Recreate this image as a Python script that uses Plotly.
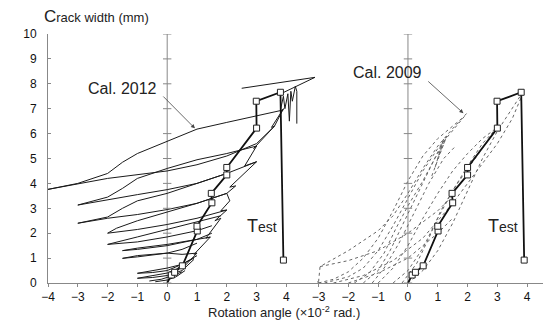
import plotly.graph_objects as go

# ---------------- data ----------------
y_ticks = list(range(0, 11))
x_ticks_left = [-4, -3, -2, -1, 0, 1, 2, 3, 4]
x_ticks_right = [-3, -2, -1, 0, 1, 2, 3, 4]

# Test (same measured curve drawn in both panels)
test_x = [0.0, 0.14, 0.25, 0.51, 1.01, 1.0, 1.5, 1.48, 2.0, 2.0, 3.0, 2.99, 3.8, 3.9]
test_y = [0.0, 0.32, 0.43, 0.69, 2.09, 2.28, 3.22, 3.6, 4.34, 4.64, 6.22, 7.3, 7.66, 0.92]

# Cal. 2012 (left panel), solid curves
cal2012_x = [
    [3.9, 3.0, 2.0, 1.0, 0.0, -1.0, -1.5, -2.0, -3.0, -4.0],
    [-4.0, -2.0, 0.0, 1.0, 2.0, 3.0, 3.6, 3.9],
    [3.0, 2.0, 1.0, 0.0, -1.0, -1.5, -2.0, -3.0],
    [-3.0, -2.0, -1.0, 0.0, 1.0, 2.0, 3.0],
    [2.0, 1.0, 0.0, -1.0, -1.5, -2.0, -3.0],
    [-3.0, -2.0, -1.0, 0.0, 1.0, 2.0],
    [2.0, 1.0, 0.0, -1.0, -1.7, -2.0],
    [-2.0, -1.0, 0.0, 1.0, 2.0],
    [1.8, 1.0, 0.0, -1.0, -2.0],
    [-2.0, -1.0, 0.0, 1.0, 1.5],
    [1.44, 1.0, 0.0, -1.0, -1.5],
    [-1.5, -1.0, 0.0, 1.0, 1.5],
    [1.0, 0.5, 0.0, -1.0, -1.5],
    [-1.5, -1.0, 0.0, 0.5, 1.0],
    [0.9, 0.5, 0.0, -0.5, -1.0],
    [-1.0, -0.5, 0.0, 0.5, 1.0],
    [0.6, 0.3, 0.0, -0.5, -1.0],
    [-1.0, -0.5, 0.0, 0.5, 0.9],
    [-0.6, -0.2, 0.2, 0.5],
    [-0.4, 0.0, 0.3, 0.6],
    [0.6, 1.0, 0.9, 1.45, 1.3, 1.8, 1.6, 2.0, 1.8, 2.1, 2.0, 2.3, 2.1, 3.0, 2.6, 3.0, 2.9, 3.6, 3.5, 3.9],
    [2.5, 4.96, 3.9],
    [3.8, 3.9, 3.95, 4.05, 4.1, 4.15, 4.2, 4.3, 4.35, 4.35],
]
cal2012_y = [
    [6.95, 6.7, 6.45, 6.18, 5.68, 5.2, 4.85, 4.4, 4.0, 3.76],
    [3.76, 4.2, 4.5, 4.75, 5.1, 5.6, 6.3, 7.0],
    [5.5, 5.2, 4.95, 4.6, 4.2, 3.8, 3.45, 3.13],
    [3.13, 3.35, 3.55, 3.75, 4.0, 4.4, 4.87],
    [4.4, 4.0, 3.6, 3.3, 3.0, 2.65, 2.4],
    [2.4, 2.6, 2.75, 2.95, 3.2, 3.6],
    [3.6, 3.2, 2.85, 2.5, 2.2, 2.0],
    [2.0, 2.15, 2.35, 2.6, 2.93],
    [2.7, 2.45, 2.15, 1.85, 1.55],
    [1.55, 1.65, 1.85, 2.1, 2.3],
    [1.84, 1.75, 1.55, 1.4, 1.3],
    [1.3, 1.35, 1.5, 1.75, 2.0],
    [1.2, 1.15, 1.2, 1.1, 0.99],
    [0.99, 1.05, 1.2, 1.35, 1.6],
    [1.0, 0.75, 0.6, 0.48, 0.39],
    [0.39, 0.42, 0.5, 0.75, 1.1],
    [0.8, 0.55, 0.4, 0.28, 0.19],
    [0.19, 0.22, 0.3, 0.5, 0.95],
    [0.08, 0.15, 0.3, 0.45],
    [0.05, 0.12, 0.25, 0.5],
    [0.7, 1.2, 1.15, 1.85, 1.8, 2.6, 2.5, 2.93, 2.9, 3.3, 3.6, 3.9, 3.85, 4.87, 4.7, 5.5, 5.4, 6.3, 6.25, 7.0],
    [7.82, 8.26, 7.65],
    [6.95, 7.5, 7.0, 7.6, 6.5, 7.7, 7.3, 7.9, 7.7, 6.4],
]

# Cal. 2009 (right panel), dotted curves
cal2009_x = [
    [-3.0, -2.95, -2.0, -1.0, -0.5, 0.0, 0.5, 1.0, 1.5, 2.0],
    [-3.0, -2.5, -2.0, -1.5, -1.0, -0.5, 0.0, 0.5, 1.0, 1.5, 1.8],
    [-2.8, -2.0, -1.5, -1.0, -0.5, 0.0, 0.5, 1.0, 1.5, 1.9],
    [-1.8, -1.3, -0.8, -0.4, 0.0, 0.5, 0.9, 1.2],
    [-1.5, -1.0, -0.6, -0.2, 0.3, 0.7, 1.1, 1.3],
    [-1.0, -0.5, 0.0, 0.5, 1.0, 1.5, 2.0, 2.5, 3.0],
    [-0.5, 0.0, 0.5, 1.0, 1.5, 2.0, 2.5, 3.0],
    [0.0, 0.5, 1.0, 1.5, 2.0, 2.5, 3.0, 3.5, 3.9],
    [-2.0, -1.0, 0.0, 1.0, 1.5],
    [-2.95, -2.0, -1.0, 0.0, 1.0, 1.5],
    [-2.5, -1.5, -0.5, 0.5, 1.5, 2.5, 3.0, 3.5, 3.85],
    [0.8, 1.3, 1.0, 1.2, 0.9],
    [-1.2, -0.8, -0.3, 0.2, 0.7, 1.2, 1.6],
    [-0.2, 0.3, 0.7, 1.1, 1.6, 2.2, 2.8, 3.0],
    [-3.05, -2.95],
]
cal2009_y = [
    [0.05, 0.66, 1.3, 2.1, 2.7, 3.6, 4.6, 5.5, 6.2, 6.85],
    [0.0, 0.15, 0.45, 1.0, 1.8, 2.9, 4.1, 5.1, 5.8, 6.3, 6.6],
    [0.0, 0.25, 0.6, 1.3, 2.3, 3.4, 4.5, 5.4, 6.1, 6.7],
    [0.0, 0.4, 1.2, 2.2, 3.1, 4.1, 5.0, 5.6],
    [0.0, 0.5, 1.3, 2.3, 3.5, 4.5, 5.5, 5.9],
    [0.0, 0.6, 1.5, 2.6, 3.6, 4.5, 5.2, 5.8, 6.25],
    [0.0, 0.5, 1.4, 2.6, 3.7, 4.7, 5.6, 6.25],
    [0.0, 0.5, 1.3, 2.4, 3.7, 5.0, 6.1, 7.0, 7.75],
    [0.0, 0.4, 1.0, 2.0, 2.6],
    [0.66, 0.9, 1.3, 2.0, 2.9, 3.5],
    [0.0, 0.3, 0.9, 1.8, 3.2, 4.8, 5.6, 6.6, 7.6],
    [4.3, 5.9, 5.0, 5.8, 4.6],
    [0.0, 0.6, 1.6, 2.8, 4.0, 5.0, 5.5],
    [0.0, 0.8, 1.8, 2.9, 3.9, 4.9, 5.9, 6.25],
    [0.05, 0.0],
]

# ---------------- figure ----------------
FONT = "Liberation Sans, Arial, sans-serif"
L_RANGE = [-4, 5.0]
R_RANGE = [-3.08, 4.8]
span_l = L_RANGE[1] - L_RANGE[0]
span_r = R_RANGE[1] - R_RANGE[0]
d_split = span_l / (span_l + span_r)

fig = go.Figure()

for xs, ys in zip(cal2012_x, cal2012_y):
    fig.add_trace(go.Scatter(x=xs, y=ys, mode="lines", xaxis="x", yaxis="y",
                             line=dict(color="#1a1a1a", width=1), hoverinfo="skip"))

for xs, ys in zip(cal2009_x, cal2009_y):
    fig.add_trace(go.Scatter(x=xs, y=ys, mode="lines", xaxis="x2", yaxis="y",
                             line=dict(color="#666666", width=1, dash="dot"), hoverinfo="skip"))

for xa in ["x", "x2"]:
    fig.add_trace(go.Scatter(x=test_x, y=test_y, mode="lines", xaxis=xa, yaxis="y",
                             line=dict(color="#111111", width=1.8), hoverinfo="skip"))
    fig.add_trace(go.Scatter(x=test_x[1:], y=test_y[1:], mode="markers", xaxis=xa, yaxis="y",
                             marker=dict(symbol="square", size=6, color="white",
                                         line=dict(color="#222222", width=1)),
                             hoverinfo="skip"))
    # small tick marks on the zero lines
    fig.add_trace(go.Scatter(x=[0] * len(y_ticks), y=y_ticks, mode="markers", xaxis=xa, yaxis="y",
                             marker=dict(symbol="line-ew-open", size=6, color="#888888",
                                         line=dict(color="#888888", width=1)),
                             hoverinfo="skip"))

shapes = [
    dict(type="line", xref="x", yref="y", x0=0, x1=0, y0=0, y1=10,
         line=dict(color="#888888", width=1), layer="below"),
    dict(type="line", xref="x2", yref="y", x0=0, x1=0, y0=0, y1=10,
         line=dict(color="#888888", width=1), layer="below"),
]

axis_common = dict(showline=True, linecolor="#888888", linewidth=1, ticks="outside",
                   ticklen=3, tickcolor="#888888", showgrid=False, zeroline=False,
                   tickfont=dict(family=FONT, size=12, color="#111111"))

annotations = [
    dict(xref="paper", yref="paper", x=-0.012, y=1.072, xanchor="left", yanchor="middle",
         text="<span style='font-size:17px'>C</span>rack width (mm)", showarrow=False,
         font=dict(family=FONT, size=13, color="#222222")),
    dict(xref="paper", yref="paper", x=0.47, y=-0.118, xanchor="center", yanchor="middle",
         text="Rotation angle (×10<sup>-2</sup> rad.)", showarrow=False,
         font=dict(family=FONT, size=13, color="#222222")),
    dict(xref="x", yref="y", x=0.93, y=6.21, ax=-0.18, ay=7.55, axref="x", ayref="y",
         text="", showarrow=True, arrowhead=2, arrowsize=1, arrowwidth=0.8, arrowcolor="#444444",
         standoff=0, startstandoff=0),
    dict(xref="x", yref="y", x=-1.5, y=7.83, text="Cal. 2012", showarrow=False,
         font=dict(family=FONT, size=16, color="#222222")),
    dict(xref="x2", yref="y", x=1.86, y=6.82, ax=0.63, ay=8.15, axref="x2", ayref="y",
         text="", showarrow=True, arrowhead=2, arrowsize=1, arrowwidth=0.8, arrowcolor="#444444",
         standoff=0, startstandoff=0),
    dict(xref="x2", yref="y", x=-0.68, y=8.45, text="Cal. 2009", showarrow=False,
         font=dict(family=FONT, size=16, color="#222222")),
    dict(xref="x", yref="y", x=3.18, y=2.29, showarrow=False,
         text="<span style='font-size:18px'>T</span>est",
         font=dict(family=FONT, size=14, color="#222222")),
    dict(xref="x2", yref="y", x=3.2, y=2.29, showarrow=False,
         text="<span style='font-size:18px'>T</span>est",
         font=dict(family=FONT, size=14, color="#222222")),
]

# the page body keeps its default 8px margin, so the figure is made 8px smaller
fig.update_layout(
    width=543, height=315,
    margin=dict(l=40, r=0, t=26, b=40),
    paper_bgcolor="white", plot_bgcolor="white",
    showlegend=False,
    xaxis=dict(domain=[0, d_split], range=L_RANGE, tickvals=x_ticks_left, anchor="y", **axis_common),
    xaxis2=dict(domain=[d_split, 1], range=R_RANGE, tickvals=x_ticks_right, anchor="y", **axis_common),
    yaxis=dict(range=[0, 10], tickvals=y_ticks, showline=True, linecolor="#888888", linewidth=1,
               ticks="inside", ticklen=3, tickcolor="#888888", showgrid=False, zeroline=False,
               ticklabelstandoff=8,
               tickfont=dict(family=FONT, size=12, color="#111111")),
    shapes=shapes,
    annotations=annotations,
)

fig.write_html("out.html")
